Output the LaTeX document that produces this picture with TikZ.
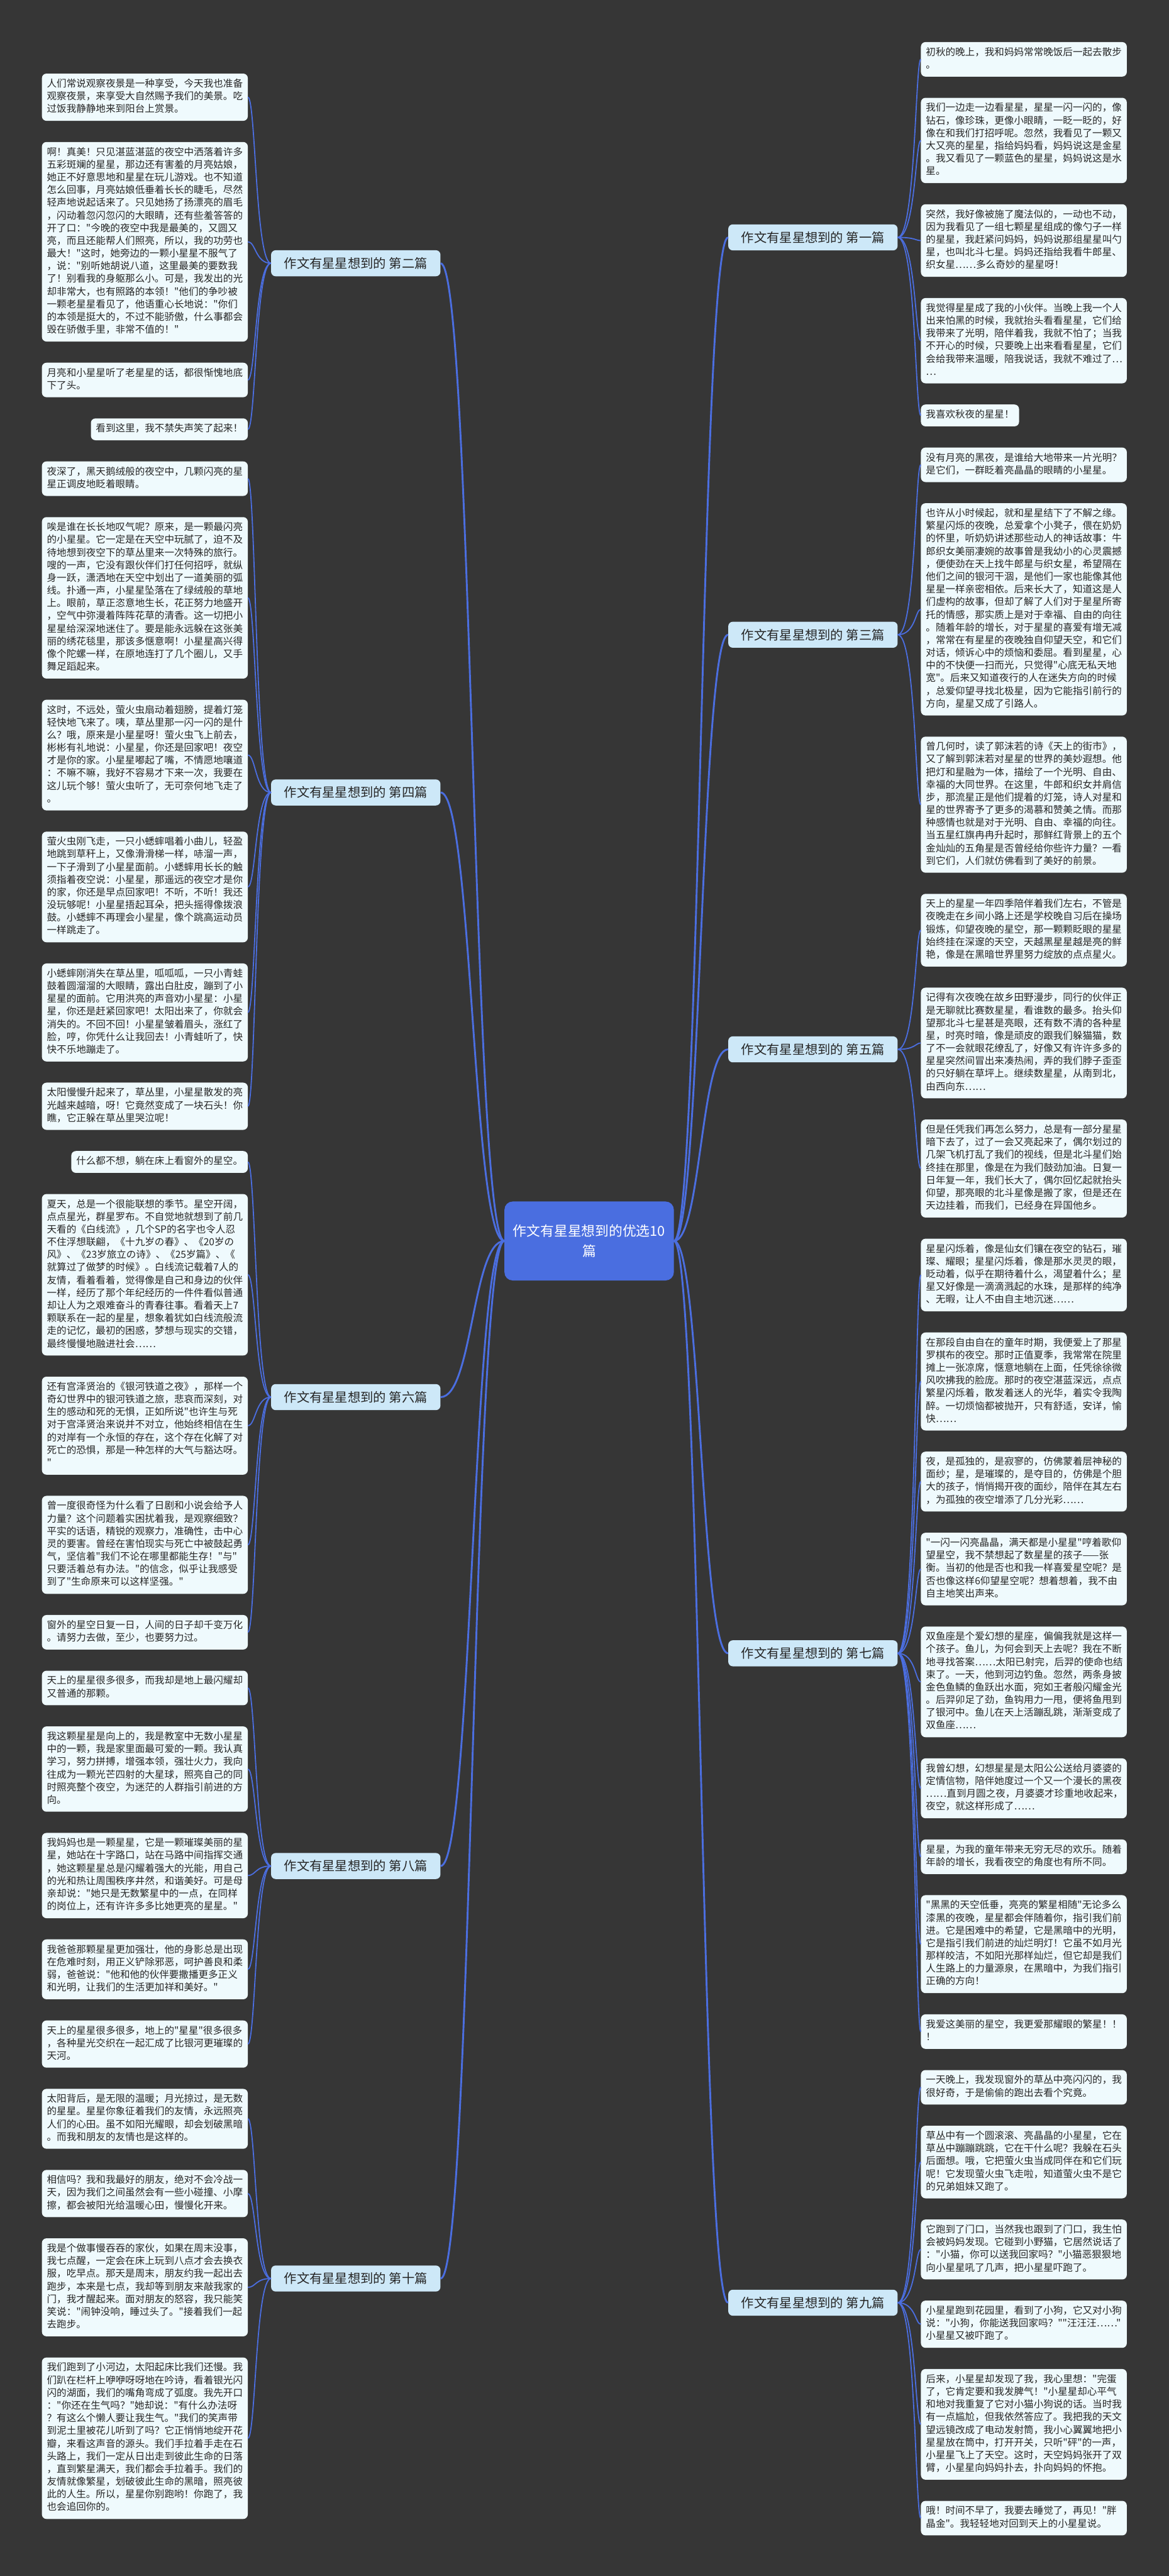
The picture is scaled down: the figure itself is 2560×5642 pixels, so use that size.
\documentclass[tikz,border=0pt]{standalone}
\usepackage{fontspec}
\newfontfamily\cjk{Noto Sans CJK SC}
\usetikzlibrary{positioning,calc}
\definecolor{bgdark}{HTML}{363636}
\definecolor{linkblue}{HTML}{4B6EE0}
\definecolor{boxfill}{HTML}{EFFAFD}
\definecolor{branchfill}{HTML}{CDE8F8}
\definecolor{rootfill}{HTML}{4A6EE0}
\definecolor{inktext}{HTML}{262626}
\tikzset{
  para/.style={fill=boxfill, rounded corners=10pt, text=inktext, inner xsep=11pt, inner ysep=10pt,
    font=\cjk\fontsize{21.45}{27.8}\selectfont, execute at begin node=\strut, execute at end node=\strut},
  wide/.style={para, text width=429pt, align=left},
  branch/.style={fill=branchfill, rounded corners=10pt, text=inktext, minimum width=371pt, minimum height=57pt,
    font=\cjk\fontsize{28}{34}\selectfont},
  root/.style={fill=rootfill, rounded corners=18pt, text=white, minimum width=371pt, minimum height=173pt,
    align=center, font=\cjk\fontsize{30}{44}\selectfont},
  link/.style={draw=linkblue, line width=4pt},
  twig/.style={draw=linkblue, line width=2.5pt}
}
\begin{document}
\begin{tikzpicture}[x=1pt, y=1pt]
\useasboundingbox (0,0) rectangle (2560,-5642);
\fill[bgdark] (0,0) rectangle (2560,-5642);

% left column
\node[wide, anchor=north east] (p2a) at (543,-161) {人们常说观察夜景是一种享受，今天我也准备\\观察夜景，来享受大自然赐予我们的美景。吃\\过饭我静静地来到阳台上赏景。};
\node[wide, below=46pt of p2a.south east, anchor=north east] (p2b) {啊！真美！只见湛蓝湛蓝的夜空中洒落着许多\\五彩斑斓的星星，那边还有害羞的月亮姑娘，\\她正不好意思地和星星在玩儿游戏。也不知道\\怎么回事，月亮姑娘低垂着长长的睫毛，尽然\\轻声地说起话来了。只见她扬了扬漂亮的眉毛\\，闪动着忽闪忽闪的大眼睛，还有些羞答答的\\开了口："今晚的夜空中我是最美的，又圆又\\亮，而且还能帮人们照亮，所以，我的功劳也\\最大！"这时，她旁边的一颗小星星不服气了\\，说："别听她胡说八道，这里最美的要数我\\了！别看我的身躯那么小。可是，我发出的光\\却非常大，也有照路的本领！"他们的争吵被\\一颗老星星看见了，他语重心长地说："你们\\的本领是挺大的，不过不能骄傲，什么事都会\\毁在骄傲手里，非常不值的！"};
\node[wide, below=46pt of p2b.south east, anchor=north east] (p2c) {月亮和小星星听了老星星的话，都很惭愧地底\\下了头。};
\node[para, below=46pt of p2c.south east, anchor=north east] (p2d) {看到这里，我不禁失声笑了起来！};

\node[wide, below=46pt of p2d.south east, anchor=north east] (p4a) {夜深了，黑天鹅绒般的夜空中，几颗闪亮的星\\星正调皮地眨着眼睛。};
\node[wide, below=46pt of p4a.south east, anchor=north east] (p4b) {唉是谁在长长地叹气呢？原来，是一颗最闪亮\\的小星星。它一定是在天空中玩腻了，迫不及\\待地想到夜空下的草丛里来一次特殊的旅行。\\嗖的一声，它没有跟伙伴们打任何招呼，就纵\\身一跃，潇洒地在天空中划出了一道美丽的弧\\线。扑通一声，小星星坠落在了绿绒般的草地\\上。眼前，草正恣意地生长，花正努力地盛开\\，空气中弥漫着阵阵花草的清香。这一切把小\\星星给深深地迷住了。要是能永远躲在这张美\\丽的绣花毯里，那该多惬意啊！小星星高兴得\\像个陀螺一样，在原地连打了几个圈儿，又手\\舞足蹈起来。};
\node[wide, below=46pt of p4b.south east, anchor=north east] (p4c) {这时，不远处，萤火虫扇动着翅膀，提着灯笼\\轻快地飞来了。咦，草丛里那一闪一闪的是什\\么？哦，原来是小星星呀！萤火虫飞上前去，\\彬彬有礼地说：小星星，你还是回家吧！夜空\\才是你的家。小星星嘟起了嘴，不情愿地嚷道\\：不嘛不嘛，我好不容易才下来一次，我要在\\这儿玩个够！萤火虫听了，无可奈何地飞走了\\。};
\node[wide, below=46pt of p4c.south east, anchor=north east] (p4d) {萤火虫刚飞走，一只小蟋蟀唱着小曲儿，轻盈\\地跳到草秆上，又像滑滑梯一样，哧溜一声，\\一下子滑到了小星星面前。小蟋蟀用长长的触\\须指着夜空说：小星星，那遥远的夜空才是你\\的家，你还是早点回家吧！不听，不听！我还\\没玩够呢！小星星捂起耳朵，把头摇得像拨浪\\鼓。小蟋蟀不再理会小星星，像个跳高运动员\\一样跳走了。};
\node[wide, below=46pt of p4d.south east, anchor=north east] (p4e) {小蟋蟀刚消失在草丛里，呱呱呱，一只小青蛙\\鼓着圆溜溜的大眼睛，露出白肚皮，蹦到了小\\星星的面前。它用洪亮的声音劝小星星：小星\\星，你还是赶紧回家吧！太阳出来了，你就会\\消失的。不回不回！小星星皱着眉头，涨红了\\脸，哼，你凭什么让我回去！小青蛙听了，快\\快不乐地蹦走了。};
\node[wide, below=46pt of p4e.south east, anchor=north east] (p4f) {太阳慢慢升起来了，草丛里，小星星散发的亮\\光越来越暗，呀！它竟然变成了一块石头！你\\瞧，它正躲在草丛里哭泣呢！};

\node[para, below=46pt of p4f.south east, anchor=north east] (p6a) {什么都不想，躺在床上看窗外的星空。};
\node[wide, below=46pt of p6a.south east, anchor=north east] (p6b) {夏天，总是一个很能联想的季节。星空开阔，\\点点星光，群星罗布。不自觉地就想到了前几\\天看的《白线流》，几个SP的名字也令人忍\\不住浮想联翩，《十九岁の春》、《20岁の\\风》、《23岁旅立の诗》、《25岁篇》、《\\就算过了做梦的时候》。白线流记载着7人的\\友情，看着看着，觉得像是自己和身边的伙伴\\一样，经历了那个年纪经历的一件件看似普通\\却让人为之艰难奋斗的青春往事。看着天上7\\颗联系在一起的星星，想象着犹如白线流般流\\走的记忆，最初的困惑，梦想与现实的交错，\\最终慢慢地融进社会……};
\node[wide, below=46pt of p6b.south east, anchor=north east] (p6c) {还有宫泽贤治的《银河铁道之夜》，那样一个\\奇幻世界中的银河铁道之旅，悲哀而深刻，对\\生的感动和死的无惧，正如所说"也许生与死\\对于宫泽贤治来说并不对立，他始终相信在生\\的对岸有一个永恒的存在，这个存在化解了对\\死亡的恐惧，那是一种怎样的大气与豁达呀。\\"};
\node[wide, below=46pt of p6c.south east, anchor=north east] (p6d) {曾一度很奇怪为什么看了日剧和小说会给予人\\力量？这个问题着实困扰着我，是观察细致？\\平实的话语，精锐的观察力，准确性，击中心\\灵的要害。曾经在害怕现实与死亡中被鼓起勇\\气，坚信着"我们不论在哪里都能生存！"与"\\只要活着总有办法。"的信念，似乎让我感受\\到了"生命原来可以这样坚强。"};
\node[wide, below=46pt of p6d.south east, anchor=north east] (p6e) {窗外的星空日复一日，人间的日子却千变万化\\。请努力去做，至少，也要努力过。};

\node[wide, below=46pt of p6e.south east, anchor=north east] (p8a) {天上的星星很多很多，而我却是地上最闪耀却\\又普通的那颗。};
\node[wide, below=46pt of p8a.south east, anchor=north east] (p8b) {我这颗星星是向上的，我是教室中无数小星星\\中的一颗，我是家里面最可爱的一颗。我认真\\学习，努力拼搏，增强本领，强壮火力，我向\\往成为一颗光芒四射的大星球，照亮自己的同\\时照亮整个夜空，为迷茫的人群指引前进的方\\向。};
\node[wide, below=46pt of p8b.south east, anchor=north east] (p8c) {我妈妈也是一颗星星，它是一颗璀璨美丽的星\\星，她站在十字路口，站在马路中间指挥交通\\，她这颗星星总是闪耀着强大的光能，用自己\\的光和热让周围秩序井然，和谐美好。可是母\\亲却说："她只是无数繁星中的一点，在同样\\的岗位上，还有许许多多比她更亮的星星。"};
\node[wide, below=46pt of p8c.south east, anchor=north east] (p8d) {我爸爸那颗星星更加强壮，他的身影总是出现\\在危难时刻，用正义铲除邪恶，呵护善良和柔\\弱，爸爸说："他和他的伙伴要撒播更多正义\\和光明，让我们的生活更加祥和美好。"};
\node[wide, below=46pt of p8d.south east, anchor=north east] (p8e) {天上的星星很多很多，地上的"星星"很多很多\\，各种星光交织在一起汇成了比银河更璀璨的\\天河。};

\node[wide, below=46pt of p8e.south east, anchor=north east] (p10a) {太阳背后，是无限的温暖；月光掠过，是无数\\的星星。星星你象征着我们的友情，永远照亮\\人们的心田。虽不如阳光耀眼，却会划破黑暗\\。而我和朋友的友情也是这样的。};
\node[wide, below=46pt of p10a.south east, anchor=north east] (p10b) {相信吗？我和我最好的朋友，绝对不会冷战一\\天，因为我们之间虽然会有一些小碰撞、小摩\\擦，都会被阳光给温暖心田，慢慢化开来。};
\node[wide, below=46pt of p10b.south east, anchor=north east] (p10c) {我是个做事慢吞吞的家伙，如果在周末没事，\\我七点醒，一定会在床上玩到八点才会去换衣\\服，吃早点。那天是周末，朋友约我一起出去\\跑步，本来是七点，我却等到朋友来敲我家的\\门，我才醒起来。面对朋友的怒容，我只能笑\\笑说："闹钟没响，睡过头了。"接着我们一起\\去跑步。};
\node[wide, below=46pt of p10c.south east, anchor=north east] (p10d) {我们跑到了小河边，太阳起床比我们还慢。我\\们趴在栏杆上咿咿呀呀地在吟诗，看着银光闪\\闪的湖面，我们的嘴角弯成了弧度。我先开口\\："你还在生气吗？"她却说："有什么办法呀\\？有这么个懒人要让我生气。"我们的笑声带\\到泥土里被花儿听到了吗？它正悄悄地绽开花\\瓣，来看这声音的源头。我们手拉着手走在石\\头路上，我们一定从日出走到彼此生命的日落\\，直到繁星满天，我们都会手拉着手。我们的\\友情就像繁星，划破彼此生命的黑暗，照亮彼\\此的人生。所以，星星你别跑哟！你跑了，我\\也会追回你的。};

% right column
\node[wide, anchor=north west] (p1a) at (2017,-92) {初秋的晚上，我和妈妈常常晚饭后一起去散步\\。};
\node[wide, below=46pt of p1a.south west, anchor=north west] (p1b) {我们一边走一边看星星，星星一闪一闪的，像\\钻石，像珍珠，更像小眼睛，一眨一眨的，好\\像在和我们打招呼呢。忽然，我看见了一颗又\\大又亮的星星，指给妈妈看，妈妈说这是金星\\。我又看见了一颗蓝色的星星，妈妈说这是水\\星。};
\node[wide, below=46pt of p1b.south west, anchor=north west] (p1c) {突然，我好像被施了魔法似的，一动也不动，\\因为我看见了一组七颗星星组成的像勺子一样\\的星星，我赶紧问妈妈，妈妈说那组星星叫勺\\星，也叫北斗七星。妈妈还指给我看牛郎星、\\织女星……多么奇妙的星星呀！};
\node[wide, below=46pt of p1c.south west, anchor=north west] (p1d) {我觉得星星成了我的小伙伴。当晚上我一个人\\出来怕黑的时候，我就抬头看看星星，它们给\\我带来了光明，陪伴着我，我就不怕了；当我\\不开心的时候，只要晚上出来看看星星，它们\\会给我带来温暖，陪我说话，我就不难过了…\\…};
\node[para, below=46pt of p1d.south west, anchor=north west] (p1e) {我喜欢秋夜的星星！};

\node[wide, below=46pt of p1e.south west, anchor=north west] (p3a) {没有月亮的黑夜，是谁给大地带来一片光明？\\是它们，一群眨着亮晶晶的眼睛的小星星。};
\node[wide, below=46pt of p3a.south west, anchor=north west] (p3b) {也许从小时候起，就和星星结下了不解之缘。\\繁星闪烁的夜晚，总爱拿个小凳子，偎在奶奶\\的怀里，听奶奶讲述那些动人的神话故事：牛\\郎织女美丽凄婉的故事曾是我幼小的心灵震撼\\，便使劲在天上找牛郎星与织女星，希望隔在\\他们之间的银河干涸，是他们一家也能像其他\\星星一样亲密相依。后来长大了，知道这是人\\们虚构的故事，但却了解了人们对于星星所寄\\托的情感，那实质上是对于幸福、自由的向往\\。随着年龄的增长，对于星星的喜爱有增无减\\，常常在有星星的夜晚独自仰望天空，和它们\\对话，倾诉心中的烦恼和委屈。看到星星，心\\中的不快便一扫而光，只觉得"心底无私天地\\宽"。后来又知道夜行的人在迷失方向的时候\\，总爱仰望寻找北极星，因为它能指引前行的\\方向，星星又成了引路人。};
\node[wide, below=46pt of p3b.south west, anchor=north west] (p3c) {曾几何时，读了郭沫若的诗《天上的街市》，\\又了解到郭沫若对星星的世界的美妙遐想。他\\把灯和星融为一体，描绘了一个光明、自由、\\幸福的大同世界。在这里，牛郎和织女并肩信\\步，那流星正是他们提着的灯笼，诗人对星和\\星的世界寄予了更多的渴慕和赞美之情。而那\\种感情也就是对于光明、自由、幸福的向往。\\当五星红旗冉冉升起时，那鲜红背景上的五个\\金灿灿的五角星是否曾经给你些许力量？一看\\到它们，人们就仿佛看到了美好的前景。};

\node[wide, below=46pt of p3c.south west, anchor=north west] (p5a) {天上的星星一年四季陪伴着我们左右，不管是\\夜晚走在乡间小路上还是学校晚自习后在操场\\锻炼，仰望夜晚的星空，那一颗颗眨眼的星星\\始终挂在深邃的天空，天越黑星星越是亮的鲜\\艳，像是在黑暗世界里努力绽放的点点星火。};
\node[wide, below=46pt of p5a.south west, anchor=north west] (p5b) {记得有次夜晚在故乡田野漫步，同行的伙伴正\\是无聊就比赛数星星，看谁数的最多。抬头仰\\望那北斗七星甚是亮眼，还有数不清的各种星\\星，时亮时暗，像是顽皮的跟我们躲猫猫，数\\了不一会就眼花缭乱了，好像又有许许多多的\\星星突然间冒出来凑热闹，弄的我们脖子歪歪\\的只好躺在草坪上。继续数星星，从南到北，\\由西向东……};
\node[wide, below=46pt of p5b.south west, anchor=north west] (p5c) {但是任凭我们再怎么努力，总是有一部分星星\\暗下去了，过了一会又亮起来了，偶尔划过的\\几架飞机打乱了我们的视线，但是北斗星们始\\终挂在那里，像是在为我们鼓劲加油。日复一\\日年复一年，我们长大了，偶尔回忆起就抬头\\仰望，那亮眼的北斗星像是搬了家，但是还在\\天边挂着，而我们，已经身在异国他乡。};

\node[wide, below=46pt of p5c.south west, anchor=north west] (p7a) {星星闪烁着，像是仙女们镶在夜空的钻石，璀\\璨、耀眼；星星闪烁着，像是那水灵灵的眼，\\眨动着，似乎在期待着什么，渴望着什么；星\\星又好像是一滴滴溅起的水珠，是那样的纯净\\、无暇，让人不由自主地沉迷……};
\node[wide, below=46pt of p7a.south west, anchor=north west] (p7b) {在那段自由自在的童年时期，我便爱上了那星\\罗棋布的夜空。那时正值夏季，我常常在院里\\摊上一张凉席，惬意地躺在上面，任凭徐徐微\\风吹拂我的脸庞。那时的夜空湛蓝深远，点点\\繁星闪烁着，散发着迷人的光华，着实令我陶\\醉。一切烦恼都被抛开，只有舒适，安详，愉\\快……};
\node[wide, below=46pt of p7b.south west, anchor=north west] (p7c) {夜，是孤独的，是寂寥的，仿佛蒙着层神秘的\\面纱；星，是璀璨的，是夺目的，仿佛是个胆\\大的孩子，悄悄揭开夜的面纱，陪伴在其左右\\，为孤独的夜空增添了几分光彩……};
\node[wide, below=46pt of p7c.south west, anchor=north west] (p7d) {"一闪一闪亮晶晶，满天都是小星星"哼着歌仰\\望星空，我不禁想起了数星星的孩子——张\\衡。当初的他是否也和我一样喜爱星空呢？是\\否也像这样6仰望星空呢？想着想着，我不由\\自主地笑出声来。};
\node[wide, below=46pt of p7d.south west, anchor=north west] (p7e) {双鱼座是个爱幻想的星座，偏偏我就是这样一\\个孩子。鱼儿，为何会到天上去呢？我在不断\\地寻找答案……太阳已射完，后羿的使命也结\\束了。一天，他到河边钓鱼。忽然，两条身披\\金色鱼鳞的鱼跃出水面，宛如王者般闪耀金光\\。后羿卯足了劲，鱼钩用力一甩，便将鱼甩到\\了银河中。鱼儿在天上活蹦乱跳，渐渐变成了\\双鱼座……};
\node[wide, below=46pt of p7e.south west, anchor=north west] (p7f) {我曾幻想，幻想星星是太阳公公送给月婆婆的\\定情信物，陪伴她度过一个又一个漫长的黑夜\\……直到月圆之夜，月婆婆才珍重地收起来，\\夜空，就这样形成了……};
\node[wide, below=46pt of p7f.south west, anchor=north west] (p7g) {星星，为我的童年带来无穷无尽的欢乐。随着\\年龄的增长，我看夜空的角度也有所不同。};
\node[wide, below=46pt of p7g.south west, anchor=north west] (p7h) {"黑黑的天空低垂，亮亮的繁星相随"无论多么\\漆黑的夜晚，星星都会伴随着你，指引我们前\\进。它是困难中的希望，它是黑暗中的光明，\\它是指引我们前进的灿烂明灯！它虽不如月光\\那样皎洁，不如阳光那样灿烂，但它却是我们\\人生路上的力量源泉，在黑暗中，为我们指引\\正确的方向！};
\node[wide, below=46pt of p7h.south west, anchor=north west] (p7i) {我爱这美丽的星空，我更爱那耀眼的繁星！！\\！};

\node[wide, below=46pt of p7i.south west, anchor=north west] (p9a) {一天晚上，我发现窗外的草丛中亮闪闪的，我\\很好奇，于是偷偷的跑出去看个究竟。};
\node[wide, below=46pt of p9a.south west, anchor=north west] (p9b) {草丛中有一个圆滚滚、亮晶晶的小星星，它在\\草丛中蹦蹦跳跳，它在干什么呢？我躲在石头\\后面想。哦，它把萤火虫当成同伴在和它们玩\\呢！它发现萤火虫飞走啦，知道萤火虫不是它\\的兄弟姐妹又跑了。};
\node[wide, below=46pt of p9b.south west, anchor=north west] (p9c) {它跑到了门口，当然我也跟到了门口，我生怕\\会被妈妈发现。它碰到小野猫，它居然说话了\\："小猫，你可以送我回家吗？"小猫恶狠狠地\\向小星星吼了几声，把小星星吓跑了。};
\node[wide, below=46pt of p9c.south west, anchor=north west] (p9d) {小星星跑到花园里，看到了小狗，它又对小狗\\说："小狗，你能送我回家吗？""汪汪汪……"\\小星星又被吓跑了。};
\node[wide, below=46pt of p9d.south west, anchor=north west] (p9e) {后来，小星星却发现了我，我心里想："完蛋\\了，它肯定要和我发脾气！"小星星却心平气\\和地对我重复了它对小猫小狗说的话。当时我\\有一点尴尬，但我依然答应了。我把我的天文\\望远镜改成了电动发射筒，我小心翼翼地把小\\星星放在筒中，打开开关，只听"砰"的一声，\\小星星飞上了天空。这时，天空妈妈张开了双\\臂，小星星向妈妈扑去，扑向妈妈的怀抱。};
\node[wide, below=46pt of p9e.south west, anchor=north west] (p9f) {哦！时间不早了，我要去睡觉了，再见！"胖\\晶金"。我轻轻地对回到天上的小星星说。};

% branches
\node[branch, anchor=east, xshift=422pt] (p2) at ($(p2a.east)!0.5!(p2d.east)$) {作文有星星想到的 第二篇};
\node[branch, anchor=east, xshift=422pt] (p4) at ($(p4a.east)!0.5!(p4f.east)$) {作文有星星想到的 第四篇};
\node[branch, anchor=east, xshift=422pt] (p6) at ($(p6a.east)!0.5!(p6e.east)$) {作文有星星想到的 第六篇};
\node[branch, anchor=east, xshift=422pt] (p8) at ($(p8a.east)!0.5!(p8e.east)$) {作文有星星想到的 第八篇};
\node[branch, anchor=east, xshift=422pt] (p10) at ($(p10a.east)!0.5!(p10d.east)$) {作文有星星想到的 第十篇};
\node[branch, anchor=west, xshift=-422pt] (p1) at ($(p1a.west)!0.5!(p1e.west)$) {作文有星星想到的 第一篇};
\node[branch, anchor=west, xshift=-422pt] (p3) at ($(p3a.west)!0.5!(p3c.west)$) {作文有星星想到的 第三篇};
\node[branch, anchor=west, xshift=-422pt] (p5) at ($(p5a.west)!0.5!(p5c.west)$) {作文有星星想到的 第五篇};
\node[branch, anchor=west, xshift=-422pt] (p7) at ($(p7a.west)!0.5!(p7i.west)$) {作文有星星想到的 第七篇};
\node[branch, anchor=west, xshift=-422pt] (p9) at ($(p9a.west)!0.5!(p9f.west)$) {作文有星星想到的 第九篇};

\node[root] (root) at (1290.5,-2718) {作文有星星想到的优选10\\篇};

% connectors
\foreach \b in {p2,p4,p6,p8,p10}
  \draw[link] (root.west) .. controls +(-70,0) and +(70,0) .. (\b.east);
\foreach \b in {p1,p3,p5,p7,p9}
  \draw[link] (root.east) .. controls +(59,0) and +(-60,0) .. (\b.west);
\foreach \c in {p2a,p2b,p2c,p2d}
  \draw[twig] (p2.west) .. controls +(-34,0) and +(17,0) .. (\c.east);
\foreach \c in {p4a,p4b,p4c,p4d,p4e,p4f}
  \draw[twig] (p4.west) .. controls +(-34,0) and +(17,0) .. (\c.east);
\foreach \c in {p6a,p6b,p6c,p6d,p6e}
  \draw[twig] (p6.west) .. controls +(-34,0) and +(17,0) .. (\c.east);
\foreach \c in {p8a,p8b,p8c,p8d,p8e}
  \draw[twig] (p8.west) .. controls +(-34,0) and +(17,0) .. (\c.east);
\foreach \c in {p10a,p10b,p10c,p10d}
  \draw[twig] (p10.west) .. controls +(-34,0) and +(17,0) .. (\c.east);
\foreach \c in {p1a,p1b,p1c,p1d,p1e}
  \draw[twig] (p1.east) .. controls +(39,0) and +(-12,0) .. (\c.west);
\foreach \c in {p3a,p3b,p3c}
  \draw[twig] (p3.east) .. controls +(39,0) and +(-12,0) .. (\c.west);
\foreach \c in {p5a,p5b,p5c}
  \draw[twig] (p5.east) .. controls +(39,0) and +(-12,0) .. (\c.west);
\foreach \c in {p7a,p7b,p7c,p7d,p7e,p7f,p7g,p7h,p7i}
  \draw[twig] (p7.east) .. controls +(39,0) and +(-12,0) .. (\c.west);
\foreach \c in {p9a,p9b,p9c,p9d,p9e,p9f}
  \draw[twig] (p9.east) .. controls +(39,0) and +(-12,0) .. (\c.west);
\end{tikzpicture}
\end{document}
